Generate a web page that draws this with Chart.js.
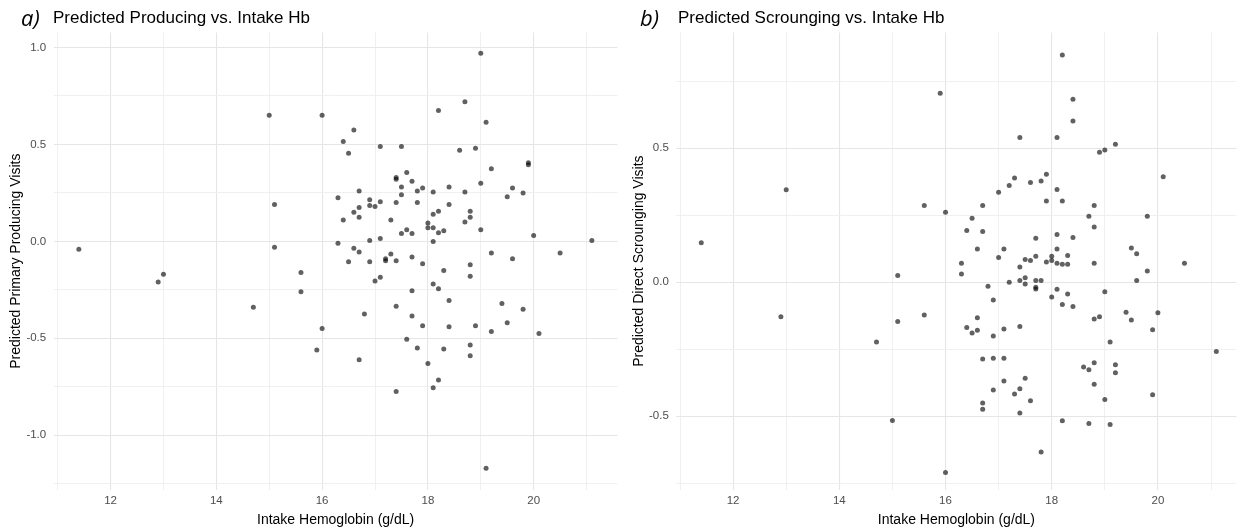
<!DOCTYPE html>
<html>
<head>
<meta charset="utf-8">
<script src="https://cdn.jsdelivr.net/npm/chart.js@4/dist/chart.umd.min.js"></script>
<style>
  html, body { margin: 0; padding: 0; background: #fff; }
  #wrap { position: relative; width: 1239px; height: 531px; overflow: hidden; background: #fff; }
  .panel { position: absolute; top: 0; }
  #panelA { left: 0; }
  #panelB { left: 620px; }
</style>
</head>
<body>
<div id="wrap">
  <div class="panel" id="panelA"><canvas id="producing" width="620" height="531"></canvas></div>
  <div class="panel" id="panelB"><canvas id="scrounging" width="619" height="531"></canvas></div>
</div>
<script>
// Intake haemoglobin (g/dL) and model-predicted primary producing visits
const producingHb = [
  11.4, 12.9, 13.0, 15.0, 15.1, 15.1, 15.6, 15.6, 14.7, 15.9,
  19.0, 18.7, 18.2, 19.1, 16.0, 16.6, 16.4, 16.5, 17.1, 17.5,
  18.6, 18.9, 19.2, 19.9, 19.9, 19.0, 17.4, 17.4, 17.6, 17.7,
  17.5, 17.5, 17.8, 17.9, 18.1, 18.4, 18.7, 19.6, 19.5, 19.8,
  16.7, 16.3, 16.9, 17.1, 16.9, 17.0, 16.7, 16.6, 16.7, 16.4,
  17.4, 17.8, 18.4, 18.2, 18.1, 18.8, 18.8, 17.3, 18.0, 18.0,
  18.1, 18.7, 19.0, 17.6, 17.5, 17.7, 18.2, 18.3, 20.0, 21.1,
  18.1, 16.3, 16.9, 17.1, 16.6, 16.7, 17.3, 17.2, 17.2, 17.4,
  17.7, 16.9, 16.5, 17.9, 18.3, 18.8, 18.8, 19.2, 19.6, 20.5,
  17.1, 17.0, 18.1, 18.2, 17.7, 18.4, 17.4, 16.8, 17.7, 17.9,
  18.4, 18.9, 19.2, 19.4, 19.8, 19.5, 20.1, 16.0, 16.7, 17.6,
  17.8, 18.3, 18.8, 18.8, 18.0, 18.2, 18.1, 17.4, 19.1
];
const producingVisits = [
  -0.04, -0.21, -0.17, 0.65, 0.19, -0.03, -0.16, -0.26, -0.34, -0.56,
  0.97, 0.72, 0.675, 0.615, 0.65, 0.575, 0.515, 0.455, 0.49, 0.49,
  0.47, 0.48, 0.375, 0.405, 0.395, 0.30, 0.33, 0.32, 0.355, 0.31,
  0.28, 0.24, 0.26, 0.275, 0.255, 0.28, 0.255, 0.275, 0.23, 0.25,
  0.26, 0.225, 0.215, 0.205, 0.185, 0.18, 0.175, 0.15, 0.125, 0.11,
  0.20, 0.20, 0.19, 0.155, 0.14, 0.155, 0.125, 0.11, 0.095, 0.07,
  0.07, 0.10, 0.06, 0.06, 0.04, 0.04, 0.045, 0.055, 0.03, 0.005,
  0.0, -0.01, 0.005, 0.015, -0.035, -0.055, -0.065, -0.09, -0.10, -0.10,
  -0.08, -0.105, -0.105, -0.115, -0.15, -0.12, -0.18, -0.06, -0.09, -0.06,
  -0.185, -0.205, -0.22, -0.245, -0.255, -0.305, -0.335, -0.375, -0.385, -0.435,
  -0.44, -0.435, -0.465, -0.32, -0.35, -0.42, -0.475, -0.45, -0.61, -0.505,
  -0.55, -0.555, -0.535, -0.59, -0.63, -0.715, -0.755, -0.775, -1.17
];

// Intake haemoglobin (g/dL) and model-predicted direct scrounging visits
const scroungingHb = [
  11.4, 13.0, 12.9, 14.7, 15.1, 15.1, 15.6, 15.6, 16.0, 15.0,
  16.0, 18.2, 15.9, 18.4, 18.4, 17.4, 18.1, 19.2, 18.9, 19.0,
  20.1, 17.3, 17.9, 17.8, 17.6, 17.2, 17.0, 18.1, 17.9, 18.2,
  16.7, 18.8, 16.5, 18.7, 19.8, 18.8, 16.4, 16.7, 17.7, 18.1,
  18.4, 16.6, 17.1, 18.1, 17.0, 16.3, 16.3, 17.4, 17.5, 17.6,
  17.7, 17.9, 18.0, 18.0, 18.1, 18.2, 18.3, 18.3, 18.8, 19.5,
  19.6, 20.5, 19.8, 19.6, 17.2, 17.4, 17.5, 17.5, 17.7, 17.8,
  17.7, 17.7, 16.8, 16.9, 18.1, 18.3, 18.0, 18.2, 18.4, 19.0,
  18.8, 18.9, 19.4, 19.5, 20.0, 19.9, 16.6, 16.4, 16.5, 16.6,
  16.9, 17.1, 17.4, 19.1, 21.1, 16.7, 16.9, 17.1, 18.6, 18.7,
  18.8, 19.2, 19.2, 17.1, 17.5, 18.8, 16.9, 17.4, 17.3, 17.6,
  19.0, 19.9, 16.7, 16.7, 17.4, 18.2, 18.7, 19.1, 17.8
];
const scroungingVisits = [
  0.147, 0.345, -0.129, -0.223, 0.025, -0.147, 0.286, -0.122, 0.261, -0.516,
  -0.710, 0.848, 0.705, 0.683, 0.601, 0.540, 0.540, 0.515, 0.485, 0.493,
  0.393, 0.389, 0.403, 0.378, 0.372, 0.361, 0.336, 0.346, 0.303, 0.303,
  0.286, 0.286, 0.239, 0.246, 0.246, 0.206, 0.193, 0.189, 0.164, 0.178,
  0.167, 0.124, 0.124, 0.124, 0.092, 0.071, 0.031, 0.057, 0.085, 0.081,
  0.097, 0.075, 0.097, 0.081, 0.071, 0.067, 0.100, 0.067, 0.071, 0.128,
  0.106, 0.071, 0.042, 0.006, 0.000, 0.006, 0.017, -0.007, 0.006, 0.006,
  -0.019, -0.025, -0.015, -0.066, -0.026, -0.044, -0.055, -0.083, -0.091, -0.036,
  -0.137, -0.129, -0.112, -0.141, -0.114, -0.177, -0.133, -0.169, -0.190, -0.179,
  -0.201, -0.175, -0.165, -0.223, -0.259, -0.287, -0.284, -0.284, -0.316, -0.327,
  -0.301, -0.308, -0.338, -0.369, -0.358, -0.381, -0.402, -0.398, -0.417, -0.442,
  -0.438, -0.420, -0.451, -0.474, -0.488, -0.517, -0.527, -0.531, -0.634
];

// Axis breaks: labelled (major) and unlabelled (minor) grid positions
const hbMajorTicks = [12, 14, 16, 18, 20];
const hbMinorTicks = [11, 13, 15, 17, 19, 21];
const producingMajorTicks = [-1.0, -0.5, 0.0, 0.5, 1.0];
const producingMinorTicks = [-1.25, -0.75, -0.25, 0.25, 0.75];
const scroungingMajorTicks = [-0.5, 0.0, 0.5];
const scroungingMinorTicks = [-0.75, -0.25, 0.25, 0.75];

const SANS = '"Liberation Sans", Arial, sans-serif';
const TICK_FONT = { family: SANS, size: 11.5 };
const TITLE_FONT = { family: SANS, size: 14 };
const X_AXIS_HEIGHT = 41.1;

// Draws the panel letter and the panel heading above the plotting area
const panelHeading = {
  id: 'panelHeading',
  afterDraw(chart, args, opts) {
    const ctx = chart.ctx;
    ctx.save();
    ctx.fillStyle = '#000';
    ctx.textBaseline = 'alphabetic';
    ctx.textAlign = 'left';
    ctx.font = 'italic 22px "Open Sans", "Noto Sans", sans-serif';
    ctx.fillText(opts.tag, opts.tagX, opts.tagY);
    ctx.font = '17px ' + SANS;
    ctx.fillText(opts.text, opts.textX, opts.textY);
    ctx.restore();
  }
};

function gridStyle(major) {
  return {
    drawTicks: false,
    color: c => (c.tick && major.includes(c.tick.value)) ? '#e6e6e6' : '#eeeeee',
    lineWidth: c => (c.tick && major.includes(c.tick.value)) ? 1.1 : 0.9
  };
}

function hbAxis(min, max) {
  return {
    type: 'linear',
    position: 'bottom',
    min, max,
    bounds: 'data',
    afterBuildTicks: s => {
      s.ticks = hbMajorTicks.concat(hbMinorTicks).sort((a, b) => a - b).map(v => ({ value: v }));
    },
    afterFit: s => { s.height = X_AXIS_HEIGHT; },
    ticks: {
      autoSkip: false, maxRotation: 0, minRotation: 0, padding: 4,
      color: '#4d4d4d', font: TICK_FONT,
      callback: v => hbMajorTicks.includes(v) ? String(v) : ''
    },
    grid: gridStyle(hbMajorTicks),
    border: { display: false },
    title: {
      display: true, text: 'Intake Hemoglobin (g/dL)', color: '#000',
      font: TITLE_FONT, padding: { top: 0, bottom: 2.3 }
    }
  };
}

function visitsAxis(min, max, major, minor, label, width, titleInset) {
  return {
    type: 'linear',
    position: 'left',
    min, max,
    bounds: 'data',
    afterBuildTicks: s => {
      s.ticks = major.concat(minor).sort((a, b) => a - b).map(v => ({ value: v }));
    },
    afterFit: s => { s.width = width; },
    ticks: {
      autoSkip: false, padding: 7.5,
      color: '#4d4d4d', font: TICK_FONT,
      callback: v => major.includes(v) ? v.toFixed(1) : ''
    },
    grid: gridStyle(major),
    border: { display: false },
    title: {
      display: true, text: label, color: '#000',
      font: TITLE_FONT, padding: { top: titleInset, bottom: 0 }
    }
  };
}

function toPoints(xs, ys) {
  return xs.map((x, i) => ({ x, y: ys[i] }));
}

function scatterConfig(points, xScale, yScale, padRight, heading) {
  return {
    type: 'scatter',
    data: {
      datasets: [{
        data: points,
        backgroundColor: 'rgba(0,0,0,0.62)',
        borderWidth: 0,
        pointRadius: 2.5,
        pointHoverRadius: 2.5
      }]
    },
    options: {
      responsive: false,
      animation: false,
      events: [],
      devicePixelRatio: 1,
      layout: { padding: { left: 0, right: padRight, top: 32.4, bottom: 0 } },
      scales: { x: xScale, y: yScale },
      plugins: {
        legend: { display: false },
        tooltip: { enabled: false },
        title: { display: false },
        panelHeading: heading
      }
    },
    plugins: [panelHeading]
  };
}

function build() {
  new Chart(document.getElementById('producing'), scatterConfig(
    toPoints(producingHb, producingVisits),
    hbAxis(10.925, 21.585),
    visitsAxis(-1.282, 1.078, producingMajorTicks, producingMinorTicks,
      'Predicted Primary Producing Visits', 53.7, 7.5),
    0.7,
    { tag: 'a)', tagX: 21, tagY: 26, text: 'Predicted Producing vs. Intake Hb', textX: 53, textY: 23 }
  ));

  new Chart(document.getElementById('scrounging'), scatterConfig(
    toPoints(scroungingHb, scroungingVisits),
    hbAxis(10.93, 21.48),
    visitsAxis(-0.775, 0.932, scroungingMajorTicks, scroungingMinorTicks,
      'Predicted Direct Scrounging Visits', 56.3, 11),
    0,
    { tag: 'b)', tagX: 20, tagY: 26, text: 'Predicted Scrounging vs. Intake Hb', textX: 58, textY: 23 }
  ));
}

const fontLoads = [
  'italic 22px "Open Sans"', '17px "Liberation Sans"', '14px "Liberation Sans"'
].map(f => document.fonts.load(f).catch(() => null));
Promise.all(fontLoads).then(build, build);
</script>
</body>
</html>
